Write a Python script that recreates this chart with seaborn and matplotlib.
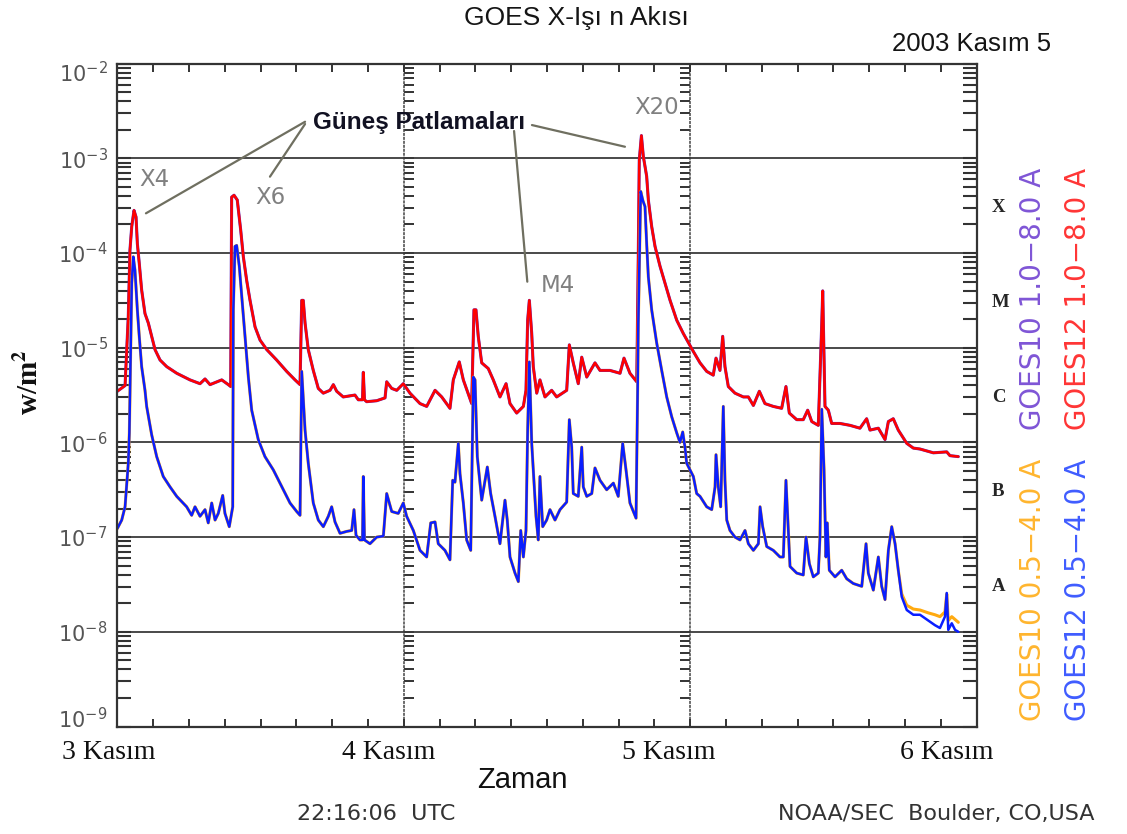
import numpy as np
import pandas as pd
import matplotlib
matplotlib.use("Agg")
import matplotlib.pyplot as plt
import matplotlib.ticker as mticker
from matplotlib.transforms import ScaledTranslation
import seaborn as sns

# ---------------- data (hours since 3 Kasım 00:00 UT, log10 of flux in W/m^2) ----------------
day_labels = ["3 Kasım", "4 Kasım", "5 Kasım", "6 Kasım"]
day_hours = [0, 24, 48, 72]
decade_values = [1e-9, 1e-8, 1e-7, 1e-6, 1e-5, 1e-4, 1e-3, 1e-2]
decade_labels = [r"$10^{-9}$", r"$10^{-8}$", r"$10^{-7}$", r"$10^{-6}$",
                 r"$10^{-5}$", r"$10^{-4}$", r"$10^{-3}$", r"$10^{-2}$"]
class_letters = ["X", "M", "C", "B", "A"]
class_positions = [10 ** -3.5, 10 ** -4.5, 10 ** -5.5, 10 ** -6.5, 10 ** -7.5]

goes12_long_hours = [
    0.00, 0.65, 0.79, 0.92, 1.06, 1.21, 1.40, 1.57, 1.68, 1.84, 2.04, 2.32, 2.60, 2.88, 3.16,
    3.58, 4.14, 4.98, 6.09, 6.93, 7.35, 7.77, 8.75, 9.30, 9.50, 9.58, 9.78, 10.05, 10.34, 10.56,
    10.84, 11.12, 11.54, 11.96, 12.52, 13.35, 14.19, 14.89, 15.31, 15.45, 15.58, 15.73, 16.00,
    16.42, 16.84, 17.26, 17.82, 18.10, 18.38, 18.93, 19.91, 20.19, 20.54, 20.61, 20.71, 20.89,
    21.73, 22.43, 22.57, 22.99, 23.41, 23.96, 24.52, 25.36, 25.92, 26.62, 27.18, 27.87, 28.15,
    28.65, 28.99, 29.69, 29.88, 30.05, 30.24, 30.53, 31.08, 31.50, 32.06, 32.57, 32.90, 33.46,
    34.02, 34.24, 34.38, 34.52, 34.72, 34.85, 35.14, 35.41, 35.83, 36.39, 36.81, 37.65, 37.87,
    38.20, 38.62, 38.91, 39.33, 40.02, 40.44, 41.28, 42.12, 42.45, 42.95, 43.52, 43.65, 43.73,
    43.91, 44.07, 44.35, 44.49, 44.77, 45.05, 45.47, 45.89, 46.31, 46.87, 47.42, 48.26, 48.82,
    49.38, 49.93, 50.16, 50.49, 50.72, 50.91, 51.19, 51.75, 52.45, 52.87, 53.29, 53.79, 54.26,
    54.96, 55.66, 56.02, 56.30, 56.92, 57.47, 57.84, 58.18, 58.73, 59.02, 59.10, 59.21, 59.29,
    59.57, 59.85, 60.55, 61.39, 62.22, 62.78, 63.06, 63.76, 64.32, 64.60, 65.01, 65.43, 66.14,
    66.69, 67.25, 68.37, 69.49, 69.76, 70.46]
goes12_long_log_flux = [
    -5.46, -5.40, -5.02, -4.67, -3.97, -3.72, -3.55, -3.62, -3.90, -4.11, -4.39, -4.64, -4.74, -4.88, -5.02,
    -5.13, -5.20, -5.27, -5.34, -5.38, -5.33, -5.39, -5.34, -5.39, -5.41, -3.41, -3.39, -3.44, -3.76, -4.04,
    -4.29, -4.50, -4.78, -4.92, -5.02, -5.13, -5.25, -5.34, -5.39, -4.50, -4.50, -4.74, -5.02,
    -5.24, -5.43, -5.48, -5.45, -5.39, -5.46, -5.52, -5.50, -5.55, -5.55, -5.26, -5.55, -5.57,
    -5.56, -5.53, -5.36, -5.43, -5.45, -5.38, -5.48, -5.59, -5.62, -5.45, -5.52, -5.64, -5.34,
    -5.15, -5.34, -5.59, -4.60, -4.60, -4.88, -5.16, -5.22, -5.34, -5.52, -5.38, -5.59, -5.69,
    -5.62, -5.45, -4.71, -4.50, -4.85, -5.20, -5.48, -5.34, -5.52, -5.45, -5.52, -5.45, -4.97,
    -5.16, -5.38, -5.10, -5.31, -5.16, -5.24, -5.24, -5.27, -5.11, -5.27, -5.36, -4.00, -3.02,
    -2.76, -2.98, -3.19, -3.44, -3.72, -3.93, -4.14, -4.32, -4.50, -4.71, -4.85, -5.04, -5.16,
    -5.25, -5.29, -5.11, -5.24, -4.88, -5.20, -5.41, -5.48, -5.52, -5.52, -5.61, -5.46, -5.59,
    -5.62, -5.64, -5.41, -5.69, -5.76, -5.76, -5.66, -5.78, -5.82, -4.74, -4.40, -5.10, -5.62,
    -5.66, -5.80, -5.80, -5.82, -5.85, -5.75, -5.87, -5.85, -5.97, -5.78, -5.75, -5.87, -6.01,
    -6.06, -6.07, -6.11, -6.10, -6.14, -6.15]

goes12_short_hours = [
    0.00, 0.37, 0.65, 0.92, 1.01, 1.12, 1.21, 1.34, 1.48, 1.68, 1.84, 2.04, 2.32, 2.46, 2.88,
    3.30, 3.85, 4.42, 4.98, 5.81, 6.23, 6.51, 6.93, 7.35, 7.62, 7.91, 8.19, 8.46, 8.83, 9.02,
    9.38, 9.67, 9.72, 9.86, 10.00, 10.22, 10.43, 10.70, 10.98, 11.26, 11.68, 11.81, 12.37, 13.07,
    13.63, 14.47, 15.03, 15.31, 15.45, 15.56, 15.73, 16.00, 16.42, 16.84, 17.26, 17.68, 17.96,
    18.24, 18.66, 19.22, 19.64, 19.83, 20.00, 20.33, 20.54, 20.61, 20.71, 21.17, 21.73, 22.29,
    22.57, 22.99, 23.54, 23.96, 24.24, 24.80, 25.36, 25.92, 26.26, 26.62, 26.89, 27.45, 27.87,
    28.10, 28.29, 28.57, 28.71, 28.99, 29.27, 29.61, 29.83, 29.97, 30.16, 30.53, 31.00, 31.28,
    31.64, 32.06, 32.48, 32.67, 32.90, 33.32, 33.60, 33.80, 34.02, 34.24, 34.38, 34.52, 34.72,
    34.85, 35.08, 35.27, 35.41, 35.64, 35.97, 36.25, 36.67, 37.09, 37.65, 37.87, 38.07, 38.20,
    38.62, 38.91, 39.04, 39.33, 39.75, 40.02, 40.44, 41.00, 41.56, 41.97, 42.34, 42.62, 42.95,
    43.46, 43.60, 43.65, 43.85, 44.04, 44.21, 44.35, 44.49, 44.77, 45.19, 45.61, 46.03, 46.45,
    46.87, 47.14, 47.37, 47.56, 47.70, 47.98, 48.26, 48.54, 48.82, 49.38, 49.80, 50.08, 50.16,
    50.35, 50.55, 50.77, 50.91, 51.06, 51.33, 51.75, 52.17, 52.59, 52.87, 53.29, 53.71, 53.85,
    54.07, 54.41, 54.96, 55.52, 55.80, 56.02, 56.22, 56.36, 56.92, 57.47, 57.70, 57.98, 58.31,
    58.73, 58.87, 59.02, 59.21, 59.37, 59.48, 59.65, 60.13, 60.69, 61.11, 61.66, 62.37, 62.73,
    62.92, 63.34, 63.76, 64.04, 64.32, 64.60, 64.88, 65.16, 65.43, 65.72, 66.14, 66.69, 67.25,
    67.94, 68.50, 68.92, 69.34, 69.49, 69.62, 69.91, 70.19, 70.46]
goes12_short_log_flux = [
    -6.91, -6.82, -6.68, -6.22, -5.90, -5.02, -4.32, -4.04, -4.18, -4.60, -4.88, -5.20, -5.45, -5.62, -5.92,
    -6.15, -6.36, -6.47, -6.57, -6.68, -6.77, -6.68, -6.78, -6.71, -6.85, -6.64, -6.82, -6.75, -6.56, -6.75,
    -6.89, -6.68, -4.60, -3.93, -3.92, -4.14, -4.46, -4.88, -5.31, -5.66, -5.90, -5.97, -6.15, -6.29,
    -6.43, -6.64, -6.73, -6.77, -5.25, -5.50, -5.87, -6.22, -6.64, -6.82, -6.89, -6.78, -6.68,
    -6.84, -6.96, -6.94, -6.93, -6.71, -6.98, -7.03, -7.03, -6.36, -7.03, -7.07, -7.00, -6.99,
    -6.54, -6.73, -6.75, -6.64, -6.78, -6.93, -7.14, -7.21, -6.85, -6.84, -7.07, -7.14, -7.24,
    -6.40, -6.42, -6.01, -6.33, -6.64, -7.03, -7.14, -5.31, -5.34, -6.15, -6.61, -6.26, -6.54,
    -6.78, -7.07, -6.61, -6.82, -7.21, -7.38, -7.47, -6.93, -7.21, -6.93, -5.87, -5.15, -6.01,
    -6.29, -6.78, -7.03, -6.36, -6.89, -6.82, -6.71, -6.82, -6.71, -6.63, -5.76, -6.05, -6.54,
    -6.57, -6.05, -6.47, -6.57, -6.54, -6.27, -6.40, -6.50, -6.43, -6.57, -6.01, -6.29, -6.64,
    -6.80, -5.38, -4.74, -3.35, -3.45, -3.51, -3.90, -4.25, -4.60, -4.95, -5.24, -5.52, -5.73,
    -5.90, -6.00, -5.89, -6.05, -6.22, -6.29, -6.36, -6.54, -6.57, -6.68, -6.71, -6.47, -6.13,
    -6.47, -6.68, -5.62, -6.40, -6.82, -6.93, -7.00, -7.03, -6.93, -7.07, -7.14, -7.07, -6.68,
    -6.89, -7.10, -7.14, -7.21, -7.21, -6.40, -6.93, -7.31, -7.38, -7.40, -7.00, -7.28, -7.42,
    -7.38, -7.00, -5.65, -6.29, -7.21, -6.85, -7.35, -7.42, -7.35, -7.44, -7.49, -7.52, -7.07,
    -7.38, -7.56, -7.21, -7.52, -7.66, -7.14, -6.89, -7.07, -7.35, -7.63, -7.77, -7.82, -7.82,
    -7.88, -7.93, -7.96, -7.84, -7.59, -7.98, -7.91, -7.98, -8.00]

# GOES10 long channel lies on top of the GOES12 curve everywhere in the picture
goes10_long_hours = goes12_long_hours
goes10_long_log_flux = goes12_long_log_flux

# GOES10 short channel: same as GOES12 until the last hours, where it stays higher
goes10_short_tail_hours = [65.72, 66.14, 66.69, 67.25, 67.94, 68.50, 68.92, 69.34, 69.49,
                           69.62, 69.91, 70.19, 70.46]
goes10_short_tail_log_flux = [-7.60, -7.72, -7.76, -7.77, -7.80, -7.82, -7.84, -7.79, -7.60,
                              -7.88, -7.84, -7.87, -7.90]
_split = goes12_short_hours.index(65.72)
goes10_short_hours = goes12_short_hours[:_split] + goes10_short_tail_hours
goes10_short_log_flux = goes12_short_log_flux[:_split] + goes10_short_tail_log_flux

# ---------------- figure ----------------
sns.set_style("white")
plt.rcParams["font.family"] = ["Liberation Sans", "DejaVu Sans"]

W, H = 1127, 834
fig = plt.figure(figsize=(W / 100, H / 100), dpi=100)
fig.patch.set_facecolor("white")
ax = fig.add_axes([117.3 / W, 1 - 726.5 / H, (976.7 - 117.3) / W, (726.5 - 63.6) / H])
ax.set_yscale("log")
ax.set_xlim(0, 72)
ax.set_ylim(1e-9, 1e-2)


def frame(hours, logf):
    return pd.DataFrame({"hours": hours, "flux": np.power(10.0, np.asarray(logf))})


series = [
    (goes10_long_hours, goes10_long_log_flux, "#5b2fc0", 2.2, 2.2),
    (goes12_long_hours, goes12_long_log_flux, "#ff0000", 1.8, 2.3),
    (goes10_short_hours, goes10_short_log_flux, "#ffaa10", 2.2, 2.4),
    (goes12_short_hours, goes12_short_log_flux, "#0a1eff", 1.8, 2.5),
]
for hrs, lf, col, lw, z in series:
    sns.lineplot(data=frame(hrs, lf), x="hours", y="flux", ax=ax, color=col,
                 linewidth=lw, estimator=None, sort=False, zorder=z)

# grid + spines
ax.yaxis.grid(True, which="major", color="#3a3a3a", linewidth=1.3)
ax.xaxis.grid(False)
for s in ax.spines.values():
    s.set_color("#333333")
    s.set_linewidth(1.6)

# y ticks
ax.set_yticks(decade_values, labels=decade_labels)
ax.yaxis.set_minor_locator(mticker.LogLocator(base=10, subs=np.arange(2, 10), numticks=60))
ax.yaxis.set_minor_formatter(mticker.NullFormatter())
ax.tick_params(axis="y", which="both", direction="in", left=True, right=True,
               length=10, width=1.5, color="#333333", labelcolor="#555555",
               labelsize=15, pad=7)
y_label_shift_px = [9, 0, 0, 0, 0, 0, 0, -8]
for lab, dy in zip(ax.get_yticklabels(), y_label_shift_px):
    lab.set_transform(lab.get_transform() + ScaledTranslation(0, dy / 100, fig.dpi_scale_trans))

# x ticks
ax.set_xticks(day_hours, labels=day_labels)
ax.xaxis.set_minor_locator(mticker.MultipleLocator(3))
ax.tick_params(axis="x", which="both", direction="in", top=True, bottom=True,
               length=6, width=1.4, color="#333333", labelsize=20, pad=10,
               labelcolor="#111111")
x_label_shift_px = [-9, -15, -21, -30]
for lab, dx in zip(ax.get_xticklabels(), x_label_shift_px):
    lab.set_fontfamily("Liberation Serif")
    lab.set_transform(lab.get_transform() + ScaledTranslation(dx / 100, 0, fig.dpi_scale_trans))

# dotted day separators carrying their own log ticks
for frac in (24 / 72, 48 / 72):
    sec = ax.secondary_yaxis(frac)
    sec.yaxis.set_minor_locator(mticker.LogLocator(base=10, subs=np.arange(2, 10), numticks=60))
    sec.yaxis.set_minor_formatter(mticker.NullFormatter())
    sec.tick_params(which="both", direction="in", length=7, width=1.4, color="#333333",
                    labelleft=False, labelright=False)
    for side in ("left", "right"):
        sec.spines[side].set_linestyle((0, (1, 1.6)))
        sec.spines[side].set_color("#444444")
        sec.spines[side].set_linewidth(1.1)

# flare classes on the right
cls = ax.secondary_yaxis("right")
cls.set_ticks(class_positions, labels=class_letters)
cls.yaxis.set_minor_locator(mticker.NullLocator())
cls.tick_params(which="both", length=0, pad=11)
for lab in cls.get_yticklabels():
    lab.set_fontfamily("Liberation Serif")
    lab.set_fontweight("bold")
    lab.set_fontsize(13.5)
cls.spines["right"].set_visible(False)

# axis labels
ax.set_xlabel("Zaman", fontsize=21, color="#111111")
ax.xaxis.label.set_va("center")
ax.xaxis.set_label_coords((522 - 117.3) / (976.7 - 117.3), (726.5 - 780) / (726.5 - 63.6))
ax.set_ylabel(r"w/m$^{\mathbf{2}}$", fontsize=21, fontfamily="Liberation Serif",
              fontweight="bold", math_fontfamily="stix", color="#111111")
ax.yaxis.label.set_va("center")
ax.yaxis.set_label_coords((30 - 117.3) / (976.7 - 117.3), (726.5 - 382) / (726.5 - 63.6))

# annotations
ann_color = "#6f6f60"
ax.text(25.28, 10 ** -2.617, "Güneş Patlamaları", ha="center", va="center",
        fontsize=17.5, fontweight="bold", color="#111122")
for (x0, l0), (x1, l1) in [((15.73, -2.614), (2.40, -3.581)),
                           ((15.73, -2.638), (12.79, -3.194)),
                           ((34.74, -2.649), (42.53, -2.878)),
                           ((33.24, -2.712), (34.35, -4.303))]:
    ax.annotate("", xy=(x1, 10 ** l1), xytext=(x0, 10 ** l0),
                arrowprops=dict(arrowstyle="-", color=ann_color, lw=1.6,
                                shrinkA=0, shrinkB=0))
for txt, hx, lg in [("X4", 3.07, -3.229), ("X6", 12.79, -3.411),
                    ("X20", 45.22, -2.459), ("M4", 36.92, -4.340)]:
    ax.text(hx, 10 ** lg, txt, ha="center", va="center", fontsize=16.5,
            fontfamily="DejaVu Sans", color="#808080")


def ftext(px, py, s, **kw):
    fig.text(px / W, 1 - py / H, s, ha="center", va="center", **kw)


ftext(576, 18, "GOES X-Işı n Akısı", fontsize=19, color="#151515")
ftext(972, 44, "2003 Kasım 5", fontsize=18.5, color="#151515")
ftext(1033, 299, "GOES10 1.0−8.0 A", rotation=90, fontsize=20, fontfamily="DejaVu Sans", color="#7f55d6")
ftext(1078, 299, "GOES12 1.0−8.0 A", rotation=90, fontsize=20, fontfamily="DejaVu Sans", color="#ff3535")
ftext(1033, 590, "GOES10 0.5−4.0 A", rotation=90, fontsize=20, fontfamily="DejaVu Sans", color="#ffb52e")
ftext(1078, 590, "GOES12 0.5−4.0 A", rotation=90, fontsize=20, fontfamily="DejaVu Sans", color="#3f5cff")
ftext(376, 814, "22:16:06  UTC", fontsize=16, fontfamily="DejaVu Sans", color="#333333")
ftext(936, 814, "NOAA/SEC  Boulder, CO,USA", fontsize=16, fontfamily="DejaVu Sans", color="#333333")

fig.savefig("out.png", dpi=100, facecolor="white")
